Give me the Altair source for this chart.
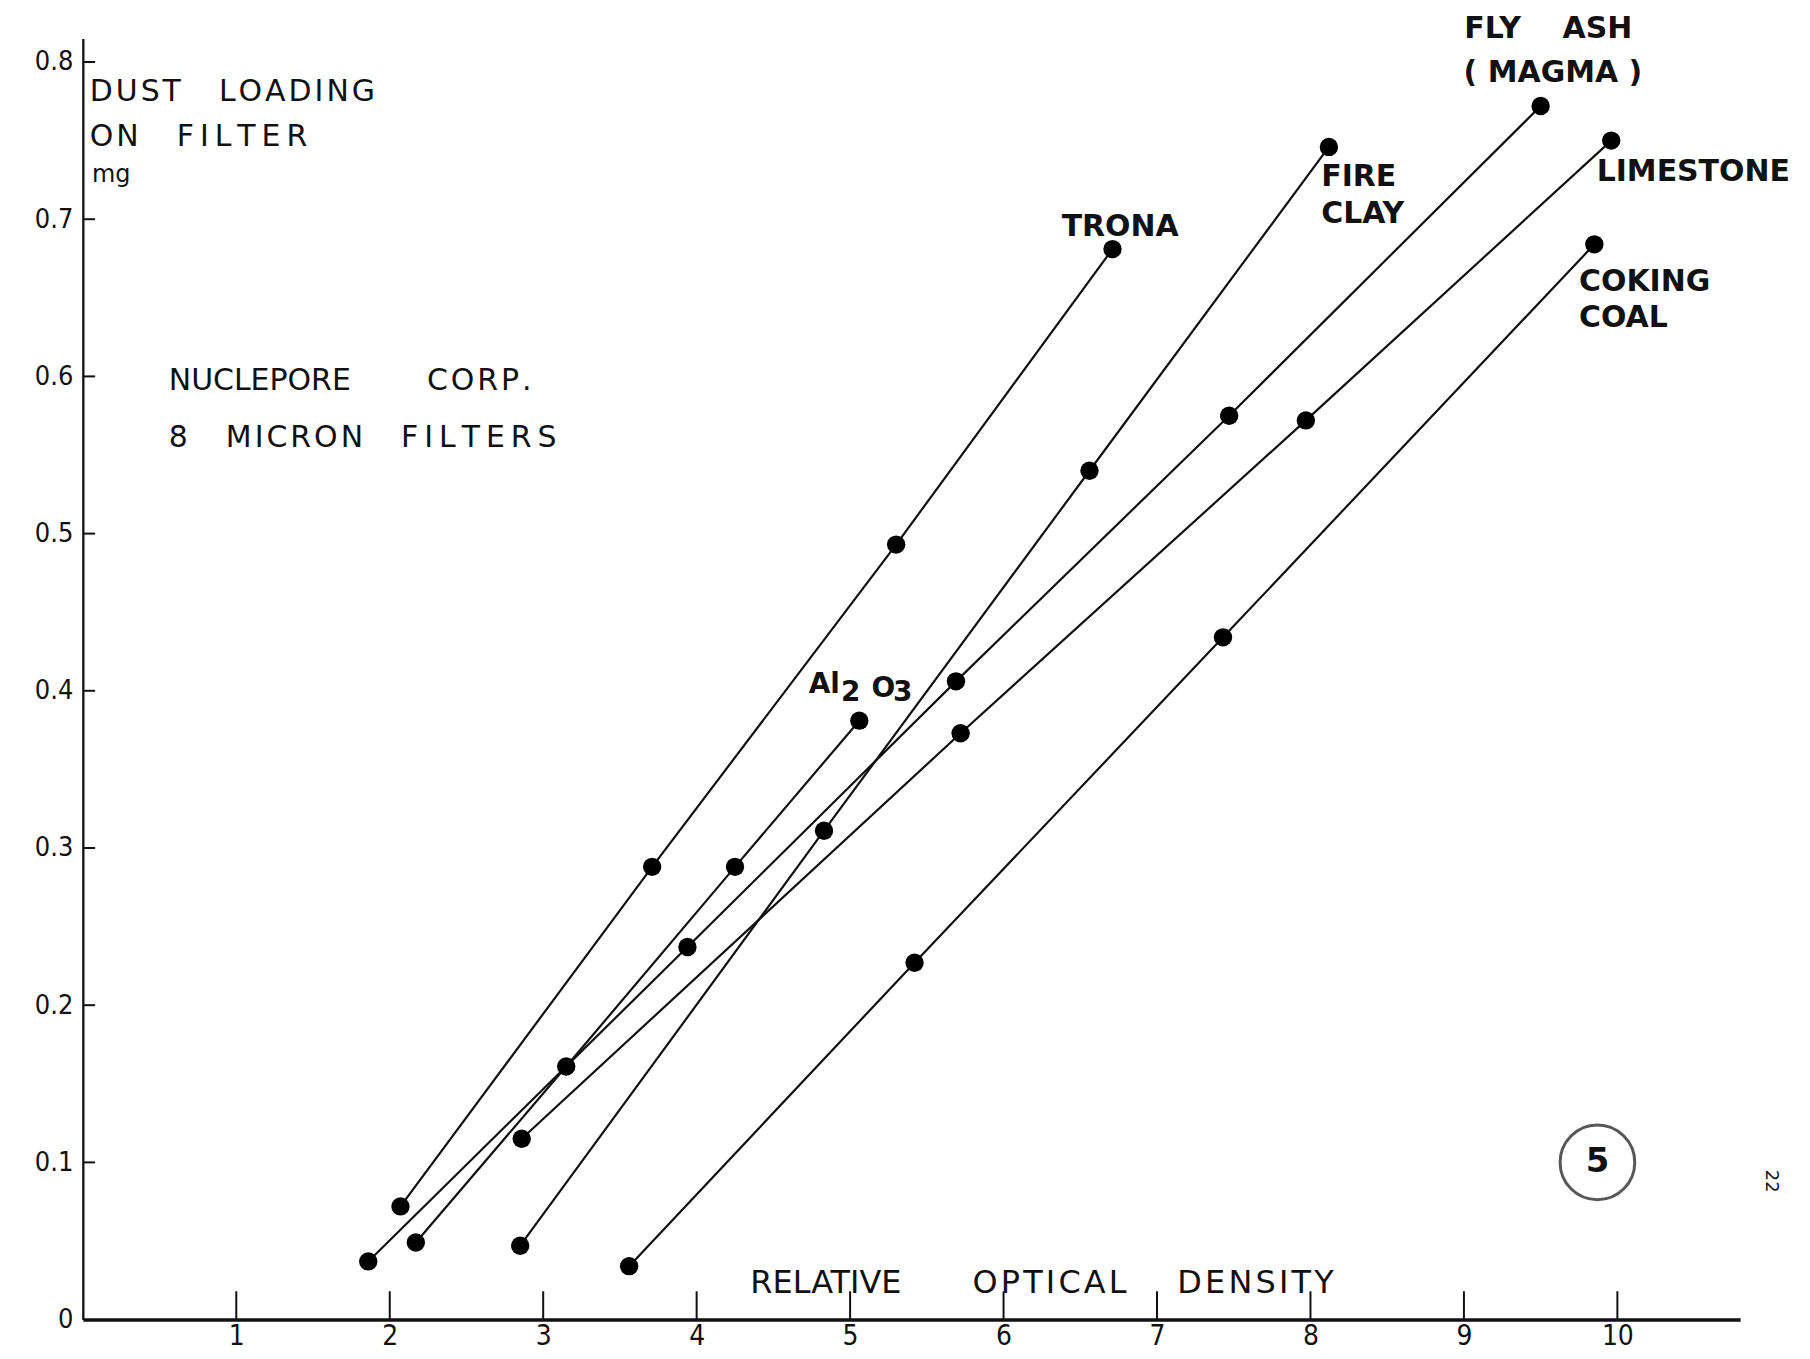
import altair as alt
import pandas as pd

# ---- data ----
trona_x = [2.07, 3.71, 5.30, 6.71]
trona_y = [0.072, 0.288, 0.493, 0.681]
al2o3_x = [2.17, 3.15, 4.25, 5.06]
al2o3_y = [0.049, 0.161, 0.288, 0.381]
flyash_x = [1.86, 3.94, 5.69, 7.47, 9.50]
flyash_y = [0.037, 0.237, 0.406, 0.575, 0.772]
fireclay_x = [2.85, 4.83, 6.56, 8.12]
fireclay_y = [0.047, 0.311, 0.540, 0.746]
limestone_x = [2.86, 5.72, 7.97, 9.96]
limestone_y = [0.115, 0.373, 0.572, 0.750]
coking_x = [3.56, 5.42, 7.43, 9.85]
coking_y = [0.034, 0.227, 0.434, 0.684]

x_ticks = [1, 2, 3, 4, 5, 6, 7, 8, 9, 10]
y_ticks = [0.1, 0.2, 0.3, 0.4, 0.5, 0.6, 0.7, 0.8]
y_labels = [0, 0.1, 0.2, 0.3, 0.4, 0.5, 0.6, 0.7, 0.8]

series = {
    "TRONA": (trona_x, trona_y),
    "AL2O3": (al2o3_x, al2o3_y),
    "FLY ASH": (flyash_x, flyash_y),
    "FIRE CLAY": (fireclay_x, fireclay_y),
    "LIMESTONE": (limestone_x, limestone_y),
    "COKING COAL": (coking_x, coking_y),
}
rows = []
for name, (xs_, ys_) in series.items():
    for i, (a, b) in enumerate(zip(xs_, ys_)):
        rows.append({"material": name, "x": a, "y": b, "i": i})
df = pd.DataFrame(rows)

FONT = "DejaVu Sans"
NARROW = "DejaVu Sans Condensed, DejaVu Sans"
xs = alt.Scale(domain=[0, 10.8], nice=False, zero=False)
ys = alt.Scale(domain=[0, 0.815], nice=False, zero=False)

base = alt.Chart(df)
lines = base.mark_line(color="#111", strokeWidth=2.2).encode(
    x=alt.X("x:Q", scale=xs,
            axis=alt.Axis(values=x_ticks, title=None, ticks=False, labelFontSize=28,
                          labelPadding=3, domainWidth=3.5, labelFont=NARROW, format="d")),
    y=alt.Y("y:Q", scale=ys,
            axis=alt.Axis(values=y_labels, title=None, ticks=False, labelFontSize=27,
                          labelPadding=10, domainWidth=2.3, labelFont=NARROW,
                          labelExpr="datum.value == 0 ? '0' : format(datum.value, '.1f')")),
    detail="material:N",
    order="i:Q",
)
points = base.mark_point(filled=True, color="#000", size=340, opacity=1).encode(
    x=alt.X("x:Q", scale=xs), y=alt.Y("y:Q", scale=ys)
)

xt = alt.Chart(pd.DataFrame({"t": x_ticks})).mark_rule(color="#111", strokeWidth=2).encode(
    x=alt.X("t:Q", scale=xs), y=alt.datum(0), y2=alt.datum(0.018)
)
yt = alt.Chart(pd.DataFrame({"t": y_ticks})).mark_rule(color="#111", strokeWidth=2).encode(
    y=alt.Y("t:Q", scale=ys), x=alt.datum(0), x2=alt.datum(0.08)
)

NB = "\u00a0"
HS = "\u200a"   # hair space
TS = "\u2009"   # thin space


def spaced(s, sep=HS):
    # hand-lettered text is letter-spaced: put a small space between letters
    return sep.join(s)


def txt(label, x, y, size=27, align="left", weight="normal", angle=0, baseline="middle"):
    kw = dict(text=label, fontSize=size, align=align, baseline=baseline,
              font=FONT, fontWeight=weight, color="#111")
    if angle:
        kw["angle"] = angle
    return alt.Chart(alt.Data(values=[{}])).mark_text(**kw).encode(
        x=alt.datum(x), y=alt.datum(y)
    )


texts = [
    txt(spaced("DUST") + NB * 4 + spaced("LOADING"), 0.045, 0.781, 30),
    txt(spaced("ON") + NB * 4 + spaced("FILTER", TS), 0.045, 0.752, 30),
    txt("mg", 0.06, 0.728, 24),
    txt("NUCLEPORE" + NB * 8 + spaced("CORP."), 0.56, 0.597, 30),
    txt("8" + NB * 4 + spaced("MICRON") + NB * 4 + spaced("FILTERS", TS), 0.56, 0.561, 30),
    txt("RELATIVE" + NB * 7 + spaced("OPTICAL") + NB * 5 + spaced("DENSITY"), 4.35, 0.0235, 32),
    txt("TRONA", 6.76, 0.695, 30, "center", "bold"),
    txt("FIRE", 8.07, 0.727, 30, "left", "bold"),
    txt("CLAY", 8.07, 0.703, 30, "left", "bold"),
    txt("FLY" + NB * 4 + "ASH", 9.55, 0.821, 30, "center", "bold"),
    txt("(" + NB + "MAGMA" + NB + ")", 9.58, 0.793, 30, "center", "bold"),
    txt("LIMESTONE", 9.865, 0.730, 30, "left", "bold"),
    txt("COKING", 9.75, 0.660, 30, "left", "bold"),
    txt("COAL", 9.75, 0.637, 30, "left", "bold"),
    txt("Al", 4.73, 0.4036, 28, "left", "bold"),
    txt("2", 4.94, 0.3985, 28, "left", "bold"),
    txt("O", 5.14, 0.401, 28, "left", "bold"),
    txt("3", 5.28, 0.3985, 28, "left", "bold"),
    txt("5", 9.87, 0.100, 34, "center", "bold"),
    txt("22", 11.0, 0.088, 18, "center", "normal", 90),
]
circle = alt.Chart(alt.Data(values=[{}])).mark_point(
    shape="circle", size=5600, filled=False, color="#111", strokeWidth=3
).encode(x=alt.datum(9.87), y=alt.datum(0.100))

chart = alt.layer(lines, points, xt, yt, circle, *texts).properties(
    width=1661, height=1284,
    autosize=alt.AutoSizeParams(type="none"),
    padding={"left": 75, "top": 29, "right": 62, "bottom": 37},
    background="white",
).configure_view(stroke=None).configure_axis(
    grid=False, domainColor="#111", labelColor="#111"
)

chart.save("out.html", embed_options={"renderer": "svg", "actions": False})
